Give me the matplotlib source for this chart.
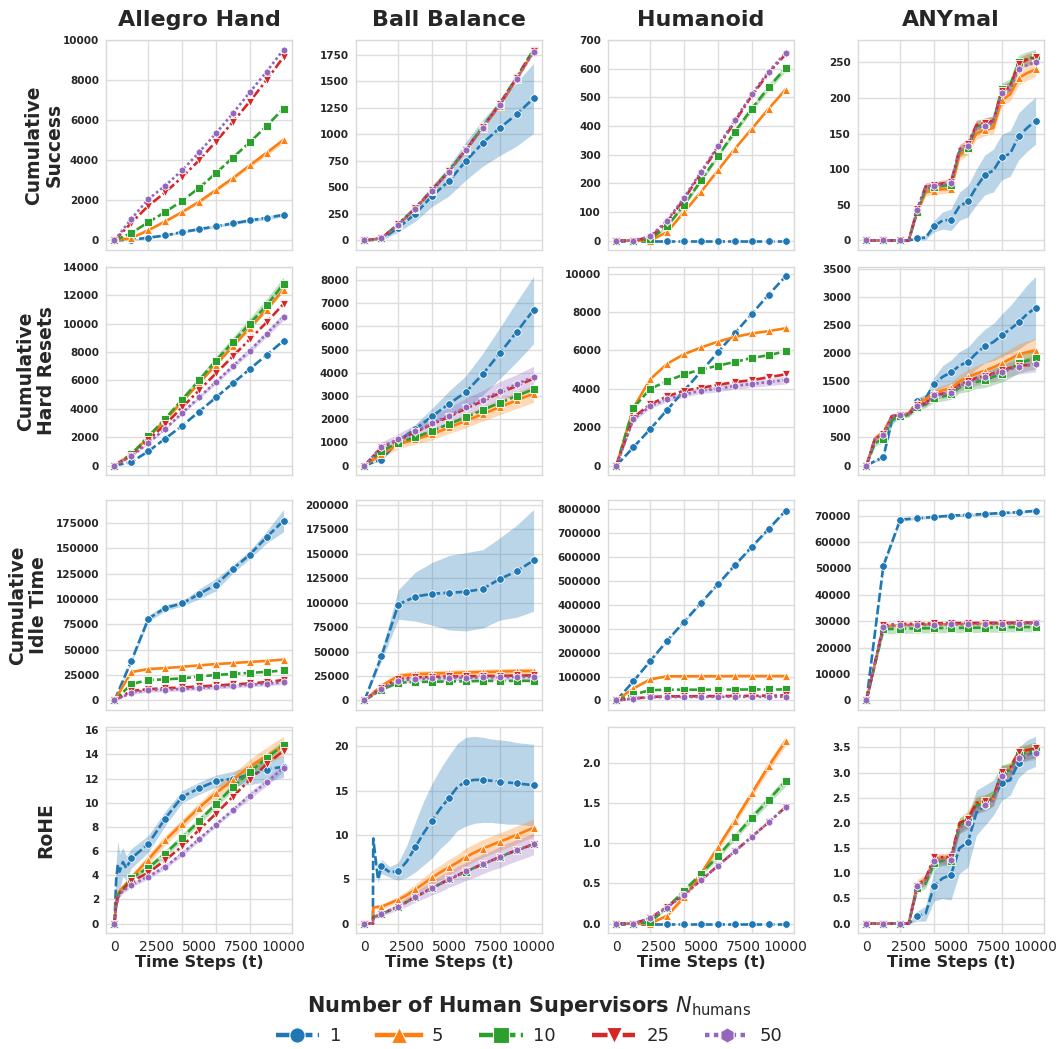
import matplotlib
matplotlib.use("Agg")
import matplotlib.pyplot as plt
from matplotlib.lines import Line2D
from matplotlib.ticker import FixedLocator

# ---------------- data ----------------
N_HUMANS = [1, 5, 10, 25, 50]
COLORS = {1: "#1f77b4", 5: "#ff7f0e", 10: "#2ca02c", 25: "#d62728", 50: "#9467bd"}
MARKERS = {1: "o", 5: "^", 10: "s", 25: "v", 50: "h"}
LINESTYLES = {1: (0, (3.5, 1.2)), 5: "-", 10: (0, (3.5, 1.2)), 25: (0, (3.5, 1.2, 1, 1.2)), 50: (0, (1, 1))}

TASKS = ["Allegro Hand", "Ball Balance", "Humanoid", "ANYmal"]
METRICS = ["Cumulative\nSuccess", "Cumulative\nHard Resets", "Cumulative\nIdle Time", "RoHE"]
X_TICKS = [0, 2500, 5000, 7500, 10000]
X_GRID = [0, 2000, 4000, 6000, 8000, 10000]

X11 = [0, 1000, 2000, 3000, 4000, 5000, 6000, 7000, 8000, 9000, 10000]
X21 = [0, 500, 1000, 1500, 2000, 2500, 3000, 3500, 4000, 4500, 5000,
       5500, 6000, 6500, 7000, 7500, 8000, 8500, 9000, 9500, 10000]
X_ALLEGRO_ROHE = [0, 100, 200, 300, 500, 700, 1000, 2000, 3000, 4000, 5000,
                  6000, 7000, 8000, 9000, 10000]
X_BALL_ROHE = [0, 500, 520, 800, 1000, 1500, 2000, 2500, 3000, 3500, 4000, 4500,
               5000, 5500, 6000, 6500, 7000, 7500, 8000, 8500, 9000, 9500, 10000]

# Row 1: cumulative success
ALLEGRO_SUCCESS = {
    1: [0, 30, 140, 250, 420, 560, 710, 850, 1000, 1130, 1280],
    5: [0, 120, 510, 950, 1420, 1930, 2520, 3110, 3750, 4380, 5020],
    10: [0, 370, 910, 1420, 1980, 2620, 3360, 4140, 4900, 5730, 6590],
    25: [0, 880, 1730, 2400, 3160, 4000, 4940, 5920, 6940, 8020, 9170],
    50: [0, 1080, 2060, 2740, 3500, 4400, 5350, 6350, 7400, 8440, 9540],
}
ALLEGRO_SUCCESS_BAND = {1: [0, 20, 40, 50, 60, 60, 70, 70, 80, 90, 100],
                        5: [0, 30, 40, 50, 60, 80, 90, 100, 110, 130, 160]}
BALL_SUCCESS = {
    1: [0, 10, 120, 250, 420, 560, 750, 920, 1060, 1190, 1340],
    5: [0, 20, 150, 300, 470, 650, 850, 1060, 1270, 1520, 1780],
    10: [0, 22, 155, 305, 478, 660, 860, 1075, 1290, 1540, 1800],
    25: [0, 21, 152, 302, 475, 655, 856, 1070, 1285, 1535, 1790],
    50: [0, 20, 150, 300, 470, 650, 852, 1065, 1278, 1525, 1775],
}
BALL_SUCCESS_BAND = {1: [0, 10, 40, 70, 100, 140, 180, 220, 260, 300, 330]}
HUMANOID_SUCCESS = {
    1: [0, 0, 0, 0, 0, 0, 0, 0, 0, 0, 0],
    5: [0, 0, 0, 30, 100, 170, 245, 320, 390, 460, 527],
    10: [0, 0, 5, 50, 125, 210, 295, 380, 460, 535, 602],
    25: [0, 0, 12, 65, 145, 235, 325, 415, 505, 585, 650],
    50: [0, 0, 15, 70, 150, 240, 330, 420, 510, 590, 655],
}
HUMANOID_SUCCESS_BAND = {10: [0, 0, 3, 5, 6, 8, 8, 10, 10, 12, 12]}
ANYMAL_SUCCESS = {
    1: [0, 0, 0, 0, 0, 0, 3, 4, 20, 28, 29, 48, 55, 75, 92, 98, 117, 122, 146, 158, 168],
    5: [0, 0, 0, 0, 0, 0, 40, 68, 70, 72, 72, 120, 128, 150, 155, 158, 197, 205, 228, 235, 240],
    10: [0, 0, 0, 0, 0, 0, 40, 72, 75, 77, 78, 125, 130, 160, 163, 167, 212, 218, 250, 255, 258],
    25: [0, 0, 0, 0, 0, 0, 44, 76, 78, 80, 82, 128, 135, 162, 165, 168, 210, 216, 248, 254, 257],
    50: [0, 0, 0, 0, 0, 0, 43, 75, 77, 79, 80, 125, 133, 158, 161, 165, 207, 212, 241, 246, 250],
}
ANYMAL_SUCCESS_BAND = {
    1: [0, 0, 0, 0, 0, 0, 2, 3, 8, 12, 15, 20, 22, 25, 28, 30, 32, 32, 33, 33, 33],
    5: [0, 0, 0, 0, 0, 0, 4, 6, 6, 6, 6, 8, 8, 8, 8, 8, 9, 9, 10, 10, 10],
    10: [0, 0, 0, 0, 0, 0, 4, 6, 6, 6, 6, 8, 8, 8, 8, 8, 9, 9, 10, 10, 10],
    25: [0, 0, 0, 0, 0, 0, 3, 5, 5, 5, 5, 7, 7, 7, 7, 7, 8, 8, 8, 8, 8],
}

# Row 2: cumulative hard resets
ALLEGRO_RESETS = {
    1: [0, 250, 1000, 1900, 2800, 3800, 4800, 5800, 6800, 7800, 8800],
    5: [0, 800, 2000, 3200, 4500, 5800, 7100, 8400, 9700, 11000, 12400],
    10: [0, 800, 2050, 3300, 4650, 6000, 7400, 8700, 10000, 11300, 12800],
    25: [0, 700, 1800, 2900, 4100, 5300, 6500, 7700, 8900, 10100, 11400],
    50: [0, 650, 1600, 2600, 3700, 4800, 5900, 7000, 8100, 9300, 10500],
}
ALLEGRO_RESETS_BAND = {10: [0, 60, 100, 150, 200, 250, 300, 350, 400, 450, 500],
                       50: [0, 40, 60, 80, 100, 120, 150, 180, 200, 220, 250]}
BALL_RESETS = {
    1: [0, 260, 1060, 1570, 2120, 2660, 3170, 3940, 4840, 5760, 6700],
    5: [0, 480, 920, 1130, 1350, 1640, 1930, 2220, 2520, 2810, 3100],
    10: [0, 630, 990, 1210, 1500, 1790, 2080, 2400, 2700, 3000, 3290],
    25: [0, 780, 1100, 1430, 1780, 2100, 2460, 2780, 3130, 3430, 3750],
    50: [0, 810, 1130, 1470, 1820, 2150, 2520, 2840, 3200, 3500, 3830],
}
BALL_RESETS_BAND = {
    1: [0, 50, 100, 200, 350, 550, 700, 900, 1100, 1300, 1450],
    5: [0, 150, 200, 200, 250, 250, 300, 300, 330, 350, 380],
    50: [0, 200, 250, 300, 350, 350, 380, 400, 420, 420, 450],
}
HUMANOID_RESETS = {
    1: [0, 950, 1900, 2900, 3900, 4900, 5900, 6900, 7900, 8900, 9850],
    5: [0, 3000, 4500, 5300, 5800, 6150, 6450, 6700, 6880, 7000, 7150],
    10: [0, 3000, 4000, 4400, 4750, 5000, 5200, 5400, 5600, 5750, 5950],
    25: [0, 2500, 3200, 3600, 3900, 4050, 4200, 4350, 4450, 4600, 4750],
    50: [0, 2400, 3100, 3450, 3700, 3900, 4000, 4150, 4250, 4350, 4450],
}
HUMANOID_RESETS_BAND = {50: [0, 100, 120, 130, 140, 150, 160, 170, 180, 190, 200]}
ANYMAL_RESETS = {
    1: [0, 80, 150, 800, 900, 920, 1150, 1200, 1450, 1580, 1660, 1780, 1850, 2000, 2130, 2200, 2320, 2430, 2550, 2700, 2810],
    5: [0, 480, 600, 880, 900, 930, 1120, 1180, 1300, 1340, 1380, 1500, 1580, 1640, 1690, 1750, 1820, 1900, 1980, 2020, 2050],
    10: [0, 400, 470, 820, 880, 900, 1050, 1090, 1200, 1230, 1270, 1390, 1430, 1490, 1520, 1580, 1640, 1720, 1820, 1870, 1910],
    25: [0, 480, 560, 880, 900, 920, 1080, 1110, 1260, 1280, 1310, 1440, 1500, 1560, 1590, 1640, 1700, 1740, 1780, 1790, 1790],
    50: [0, 470, 550, 880, 900, 920, 1070, 1100, 1250, 1270, 1300, 1420, 1480, 1540, 1570, 1620, 1670, 1720, 1760, 1790, 1810],
}
ANYMAL_RESETS_BAND = {
    1: [0, 20, 40, 80, 30, 40, 60, 70, 120, 200, 220, 250, 260, 280, 300, 330, 380, 420, 480, 520, 560],
    5: [0, 60, 60, 40, 40, 40, 60, 70, 80, 90, 100, 120, 130, 140, 150, 160, 170, 180, 190, 200, 210],
    10: [0, 60, 60, 40, 40, 40, 50, 60, 70, 80, 90, 100, 110, 120, 130, 140, 150, 160, 170, 180, 190],
    50: [0, 40, 40, 30, 30, 30, 40, 50, 60, 70, 80, 90, 100, 110, 110, 120, 120, 130, 130, 140, 140],
}

# Row 3: cumulative idle time
ALLEGRO_IDLE = {
    1: [0, 39000, 80600, 91400, 95700, 105000, 114200, 129700, 143800, 161200, 177400],
    5: [0, 28000, 31000, 31900, 33200, 34600, 35900, 36900, 38000, 39000, 40300],
    10: [0, 16100, 20200, 20800, 21800, 23500, 25200, 26200, 27200, 28200, 29600],
    25: [0, 9400, 11100, 12100, 12800, 13800, 14800, 15800, 16800, 18100, 20200],
    50: [0, 7700, 10100, 10700, 11400, 12400, 13400, 14400, 15500, 16500, 17800],
}
ALLEGRO_IDLE_BAND = {1: [0, 2000, 3000, 3000, 2500, 5000, 6000, 4000, 4000, 6000, 11000],
                     50: [0, 1500, 2000, 2000, 2000, 2000, 2000, 2000, 2000, 2000, 2000]}
BALL_IDLE = {
    1: [0, 45000, 98000, 106000, 109000, 110000, 111000, 114000, 124000, 132000, 143000],
    5: [0, 15000, 25000, 27000, 27500, 28000, 28500, 29000, 29500, 30000, 30000],
    10: [0, 11000, 18000, 19000, 19000, 19500, 19500, 20000, 20000, 20000, 20000],
    25: [0, 13000, 22000, 23500, 24000, 24500, 24500, 25000, 25000, 25500, 25500],
    50: [0, 12000, 20000, 22000, 22500, 23000, 23000, 23500, 23500, 24000, 24000],
}
BALL_IDLE_BAND = {1: [0, 5000, 15000, 25000, 32000, 38000, 40000, 40000, 42000, 47000, 52000],
                  5: [0, 2000, 3000, 3000, 3000, 3000, 3000, 3000, 3000, 3000, 3000],
                  50: [0, 2000, 3000, 3000, 3000, 3000, 3000, 3000, 3000, 3000, 3000]}
HUMANOID_IDLE = {
    1: [0, 80000, 165000, 250000, 329000, 408000, 486000, 565000, 642000, 717000, 793000],
    5: [0, 50000, 88000, 101000, 101000, 101500, 101500, 102000, 102000, 102000, 102000],
    10: [0, 25000, 43000, 45000, 45000, 45000, 45500, 45500, 46000, 46000, 46000],
    25: [0, 8000, 15000, 17000, 17000, 18000, 18000, 19000, 19000, 20000, 21000],
    50: [0, 8000, 13000, 14000, 14000, 14500, 15000, 15000, 15000, 15000, 15000],
}
HUMANOID_IDLE_BAND = {1: [0, 2000, 3000, 3000, 4000, 4000, 4000, 5000, 5000, 5000, 5000]}
ANYMAL_IDLE = {
    1: [0, 51000, 68500, 69000, 69500, 70000, 70300, 70600, 71000, 71300, 71800],
    5: [0, 28000, 28500, 28700, 28800, 28900, 29000, 29000, 29100, 29200, 29300],
    10: [0, 27000, 27200, 27300, 27400, 27500, 27500, 27600, 27700, 27800, 27800],
    25: [0, 28500, 29000, 29000, 29200, 29300, 29300, 29400, 29400, 29500, 29500],
    50: [0, 28000, 28500, 28500, 28700, 28800, 28900, 29000, 29000, 29100, 29200],
}
ANYMAL_IDLE_BAND = {1: [0, 800, 600, 500, 500, 500, 500, 500, 500, 500, 500],
                    10: [0, 1800, 1800, 1800, 1800, 1800, 1800, 1800, 1800, 1800, 1800]}

# Row 4: RoHE
ALLEGRO_ROHE = {
    1: [0, 3.6, 4.9, 4.3, 5.1, 4.6, 5.4, 6.6, 8.7, 10.5, 11.2, 11.8, 12.0, 12.3, 12.75, 13.0],
    5: [0, 1.8, 2.4, 2.7, 3.0, 3.3, 3.8, 5.3, 6.9, 8.25, 9.6, 10.8, 11.9, 13.0, 13.9, 14.7],
    10: [0, 1.6, 2.3, 2.6, 2.9, 3.2, 3.8, 4.6, 5.8, 7.1, 8.5, 9.9, 11.3, 12.55, 13.7, 14.8],
    25: [0, 1.5, 2.2, 2.5, 2.8, 3.1, 3.5, 4.2, 5.25, 6.4, 7.75, 9.1, 10.5, 11.9, 13.2, 14.3],
    50: [0, 1.4, 2.0, 2.4, 2.7, 2.9, 3.2, 3.9, 4.7, 5.8, 7.0, 8.2, 9.4, 10.6, 11.7, 12.9],
}
ALLEGRO_ROHE_BAND = {
    1: [0, 1.5, 2.0, 1.5, 1.2, 1.0, 0.8, 0.7, 0.6, 0.5, 0.5, 0.5, 0.6, 0.8, 1.0, 0.9],
    5: [0, 0.3, 0.3, 0.3, 0.3, 0.3, 0.3, 0.4, 0.4, 0.4, 0.4, 0.5, 0.5, 0.6, 0.7, 0.8],
    10: [0, 0.2, 0.2, 0.2, 0.2, 0.2, 0.2, 0.3, 0.3, 0.3, 0.3, 0.3, 0.3, 0.4, 0.4, 0.4],
    50: [0, 0.2, 0.2, 0.2, 0.2, 0.2, 0.2, 0.2, 0.2, 0.2, 0.2, 0.2, 0.2, 0.3, 0.3, 0.3],
}
BALL_ROHE = {
    1: [0, 0, 9.6, 5.0, 6.45, 5.8, 5.9, 7.0, 8.6, 10.2, 11.6, 13.0, 14.15, 15.4, 16.0, 16.2, 16.2, 16.1, 16.0, 15.9, 15.8, 15.7, 15.6],
    5: [0, 0, 1.8, 1.9, 1.9, 2.3, 2.7, 3.2, 3.85, 4.5, 5.2, 5.8, 6.35, 6.9, 7.5, 8.0, 8.46, 8.85, 9.23, 9.6, 10.0, 10.4, 10.8],
    10: [0, 0, 0.8, 0.9, 1.05, 1.5, 1.9, 2.45, 3.0, 3.5, 4.0, 4.5, 5.0, 5.45, 5.85, 6.3, 6.7, 7.1, 7.5, 7.9, 8.25, 8.6, 8.95],
    25: [0, 0, 0.7, 0.9, 1.08, 1.5, 1.92, 2.45, 3.0, 3.5, 4.04, 4.5, 5.0, 5.45, 5.88, 6.3, 6.73, 7.1, 7.5, 7.9, 8.27, 8.6, 8.96],
    50: [0, 0, 0.7, 0.9, 1.08, 1.5, 1.92, 2.45, 3.0, 3.5, 4.04, 4.5, 5.0, 5.45, 5.88, 6.3, 6.73, 7.1, 7.5, 7.9, 8.27, 8.6, 8.96],
}
BALL_ROHE_BAND = {
    1: [0, 0, 0, 0.4, 0.8, 0.6, 1.0, 1.8, 2.8, 3.6, 4.2, 4.5, 4.8, 4.9, 5.0, 4.9, 4.8, 4.7, 4.7, 4.7, 4.6, 4.6, 4.6],
    5: [0, 0, 0.2, 0.2, 0.3, 0.3, 0.4, 0.5, 0.6, 0.7, 0.8, 0.8, 0.9, 0.9, 1.0, 1.0, 1.0, 1.0, 1.0, 1.0, 1.0, 1.0, 1.0],
    50: [0, 0, 0.2, 0.2, 0.3, 0.3, 0.4, 0.5, 0.6, 0.7, 0.8, 0.9, 0.9, 1.0, 1.0, 1.1, 1.1, 1.1, 1.2, 1.2, 1.2, 1.2, 1.2],
}
HUMANOID_ROHE = {
    1: [0, 0, 0, 0, 0, 0, 0, 0, 0, 0, 0],
    5: [0, 0, 0, 0.1, 0.33, 0.62, 0.95, 1.28, 1.62, 1.96, 2.27],
    10: [0, 0, 0.02, 0.2, 0.41, 0.62, 0.84, 1.08, 1.32, 1.54, 1.77],
    25: [0, 0, 0.07, 0.21, 0.36, 0.54, 0.72, 0.9, 1.08, 1.26, 1.45],
    50: [0, 0, 0.07, 0.2, 0.36, 0.54, 0.72, 0.9, 1.08, 1.26, 1.45],
}
HUMANOID_ROHE_BAND = {5: [0, 0, 0, 0.02, 0.03, 0.04, 0.04, 0.05, 0.05, 0.06, 0.06],
                      10: [0, 0, 0, 0.02, 0.03, 0.03, 0.04, 0.04, 0.05, 0.05, 0.06]}
ANYMAL_ROHE = {
    1: [0, 0, 0, 0, 0, 0, 0.15, 0.2, 0.75, 0.9, 0.97, 1.5, 1.62, 2.2, 2.35, 2.5, 2.8, 2.85, 3.2, 3.35, 3.42],
    5: [0, 0, 0, 0, 0, 0, 0.78, 0.88, 1.28, 1.3, 1.3, 1.95, 2.1, 2.38, 2.42, 2.48, 2.98, 3.05, 3.38, 3.42, 3.45],
    10: [0, 0, 0, 0, 0, 0, 0.7, 0.8, 1.2, 1.25, 1.25, 1.95, 2.05, 2.35, 2.4, 2.5, 3.0, 3.05, 3.35, 3.4, 3.45],
    25: [0, 0, 0, 0, 0, 0, 0.75, 0.9, 1.32, 1.32, 1.32, 2.0, 2.08, 2.4, 2.43, 2.5, 3.02, 3.1, 3.4, 3.45, 3.48],
    50: [0, 0, 0, 0, 0, 0, 0.75, 0.85, 1.25, 1.27, 1.27, 1.9, 2.0, 2.3, 2.35, 2.45, 2.93, 3.0, 3.3, 3.35, 3.38],
}
ANYMAL_ROHE_BAND = {
    1: [0, 0, 0, 0, 0, 0, 0.1, 0.15, 0.3, 0.4, 0.5, 0.5, 0.5, 0.45, 0.4, 0.35, 0.35, 0.3, 0.3, 0.3, 0.3],
    5: [0, 0, 0, 0, 0, 0, 0.1, 0.1, 0.1, 0.1, 0.1, 0.15, 0.15, 0.15, 0.15, 0.15, 0.15, 0.15, 0.15, 0.15, 0.15],
    10: [0, 0, 0, 0, 0, 0, 0.1, 0.1, 0.1, 0.1, 0.1, 0.15, 0.15, 0.15, 0.15, 0.15, 0.15, 0.15, 0.15, 0.15, 0.15],
    50: [0, 0, 0, 0, 0, 0, 0.08, 0.1, 0.1, 0.1, 0.1, 0.12, 0.12, 0.12, 0.12, 0.12, 0.12, 0.12, 0.12, 0.12, 0.12],
}

Y_TICKS = [
    [[0, 2000, 4000, 6000, 8000, 10000], [0, 250, 500, 750, 1000, 1250, 1500, 1750],
     [0, 100, 200, 300, 400, 500, 600, 700], [0, 50, 100, 150, 200, 250]],
    [[0, 2000, 4000, 6000, 8000, 10000, 12000, 14000], [0, 1000, 2000, 3000, 4000, 5000, 6000, 7000, 8000],
     [0, 2000, 4000, 6000, 8000, 10000], [0, 500, 1000, 1500, 2000, 2500, 3000, 3500]],
    [[0, 25000, 50000, 75000, 100000, 125000, 150000, 175000],
     [0, 25000, 50000, 75000, 100000, 125000, 150000, 175000, 200000],
     [0, 100000, 200000, 300000, 400000, 500000, 600000, 700000, 800000],
     [0, 10000, 20000, 30000, 40000, 50000, 60000, 70000]],
    [[0, 2, 4, 6, 8, 10, 12, 14, 16], [0, 5, 10, 15, 20],
     [0.0, 0.5, 1.0, 1.5, 2.0], [0.0, 0.5, 1.0, 1.5, 2.0, 2.5, 3.0, 3.5]],
]
DECIMAL_TICKS = {(3, 2), (3, 3)}

PANELS = [
    [(X11, ALLEGRO_SUCCESS, ALLEGRO_SUCCESS_BAND), (X11, BALL_SUCCESS, BALL_SUCCESS_BAND),
     (X11, HUMANOID_SUCCESS, HUMANOID_SUCCESS_BAND), (X21, ANYMAL_SUCCESS, ANYMAL_SUCCESS_BAND)],
    [(X11, ALLEGRO_RESETS, ALLEGRO_RESETS_BAND), (X11, BALL_RESETS, BALL_RESETS_BAND),
     (X11, HUMANOID_RESETS, HUMANOID_RESETS_BAND), (X21, ANYMAL_RESETS, ANYMAL_RESETS_BAND)],
    [(X11, ALLEGRO_IDLE, ALLEGRO_IDLE_BAND), (X11, BALL_IDLE, BALL_IDLE_BAND),
     (X11, HUMANOID_IDLE, HUMANOID_IDLE_BAND), (X11, ANYMAL_IDLE, ANYMAL_IDLE_BAND)],
    [(X_ALLEGRO_ROHE, ALLEGRO_ROHE, ALLEGRO_ROHE_BAND), (X_BALL_ROHE, BALL_ROHE, BALL_ROHE_BAND),
     (X11, HUMANOID_ROHE, HUMANOID_ROHE_BAND), (X21, ANYMAL_ROHE, ANYMAL_ROHE_BAND)],
]

# ---------------- figure ----------------
W, H = 1058, 1049
fig = plt.figure(figsize=(W / 100, H / 100), dpi=100, facecolor="white")

COL_LEFT = [106, 356, 608, 858]
COL_W = 186
ROW_TOP = [40, 267, 500, 727]
ROW_H = [210, 208, 210, 206]
ROW_LABEL_X = [44, 36, 28, 46]   # pixel centre of each row label

TEXT_C = "#262626"
GRID_C = "#dddddd"

for r in range(4):
    for c in range(4):
        ax = fig.add_axes([COL_LEFT[c] / W, 1 - (ROW_TOP[r] + ROW_H[r]) / H, COL_W / W, ROW_H[r] / H])
        ax.set_facecolor("white")
        x, series, bands = PANELS[r][c]
        mark_idx = [i for i, xv in enumerate(x) if xv % 1000 == 0]
        for n in N_HUMANS:
            y = series[n]
            if n in bands:
                lo = [a - b for a, b in zip(y, bands[n])]
                hi = [a + b for a, b in zip(y, bands[n])]
                ax.fill_between(x, lo, hi, color=COLORS[n], alpha=0.3, lw=0)
            ax.plot(x, y, color=COLORS[n], ls=LINESTYLES[n], lw=1.9, marker=MARKERS[n],
                    markevery=mark_idx, markersize=5.5, markeredgecolor="white",
                    markeredgewidth=0.6)
        yt = Y_TICKS[r][c]
        if (r, c) in DECIMAL_TICKS:
            labels = [f"{t:.1f}" for t in yt]
        else:
            labels = [str(int(t)) for t in yt]
        ax.set_yticks(yt, labels)
        ax.set_xlim(-500, 10500)
        ax.xaxis.set_major_locator(FixedLocator(X_TICKS))
        ax.xaxis.set_minor_locator(FixedLocator(X_GRID))
        ax.grid(False)
        ax.grid(True, which="minor", axis="x", color=GRID_C, lw=1.0)
        ax.grid(True, which="major", axis="y", color=GRID_C, lw=1.0)
        ax.set_axisbelow(True)
        for s in ax.spines.values():
            s.set_color("#d9d9d9")
            s.set_linewidth(1.0)
        ax.tick_params(axis="both", which="both", length=0, colors=TEXT_C)
        ax.tick_params(axis="y", labelsize=7.5, pad=5)
        for lab in ax.get_yticklabels():
            lab.set_fontweight("bold")
        if r == 3:
            ax.set_xticks(X_TICKS, [str(t) for t in X_TICKS])
            ax.tick_params(axis="x", labelsize=10, pad=5)
            ax.set_xlabel("Time Steps (t)", fontsize=11.5, fontweight="bold", color=TEXT_C, labelpad=1)
        else:
            ax.set_xticks(X_TICKS, ["" for _ in X_TICKS])
        if r == 0:
            ax.set_title(TASKS[c], fontsize=16, fontweight="bold", color=TEXT_C, pad=10)
        if c == 0:
            ax.set_ylabel(METRICS[r], fontsize=13.5, fontweight="bold", color=TEXT_C,
                          linespacing=1.1, va="center")
            ax.yaxis.set_label_coords((ROW_LABEL_X[r] - COL_LEFT[0]) / COL_W, 0.5)

handles = [Line2D([], [], color=COLORS[n], ls=LINESTYLES[n], lw=3.2, marker=MARKERS[n],
                  markersize=11, markeredgecolor="white", markeredgewidth=0.8) for n in N_HUMANS]
leg = fig.legend(handles, [str(n) for n in N_HUMANS], loc="lower center", ncol=5,
                 bbox_to_anchor=(0.5, -0.012), frameon=False, fontsize=13, handlelength=2.4,
                 columnspacing=2.0, handletextpad=0.6,
                 title=r"Number of Human Supervisors $N_{\mathrm{humans}}$",
                 title_fontproperties={"weight": "bold", "size": 15})
leg.get_title().set_color(TEXT_C)
for t in leg.get_texts():
    t.set_color(TEXT_C)

fig.savefig("out.png", dpi=100, facecolor="white")
